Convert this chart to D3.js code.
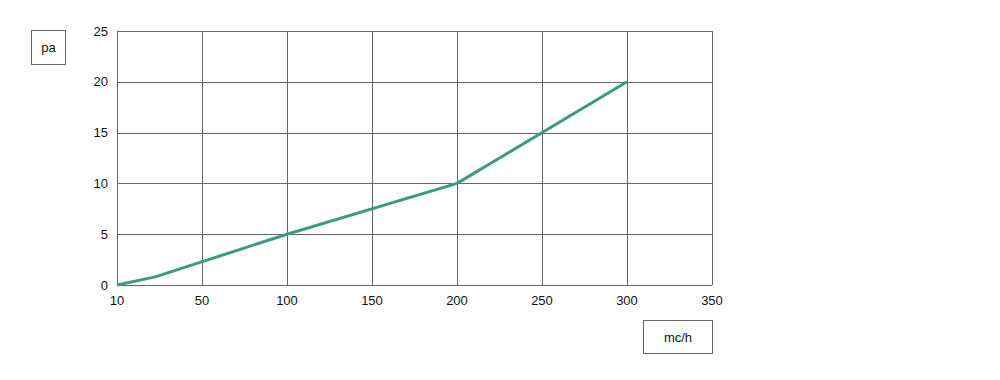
<!DOCTYPE html>
<html><head><meta charset="utf-8">
<script src="https://cdn.jsdelivr.net/npm/d3@7"></script>
<style>body{margin:0;background:#fff}svg{display:block}text{font-family:"Liberation Sans",Arial,sans-serif;fill:#111}</style>
</head><body><svg id="c" width="1000" height="380"></svg>
<script>
const xTicks = [10, 50, 100, 150, 200, 250, 300, 350];
const yTicks = [0, 5, 10, 15, 20, 25];
const flowValues = [10, 28, 100, 200, 300];
const pressureValues = [0, 0.8, 5, 10, 20];
const yLabel = "pa";
const xLabel = "mc/h";

const svg = d3.select("#c");
const pLeft = 117, pRight = 712, pTop = 31, pBottom = 285;
const step = (pRight - pLeft) / (xTicks.length - 1);
const x = d3.scaleLinear().domain(xTicks).range(xTicks.map((d, i) => pLeft + i * step));
const y = d3.scaleLinear().domain([0, 25]).range([pBottom, pTop]);

const g = svg.append("g");
g.selectAll("line.v").data(xTicks).join("line")
  .attr("x1", d => Math.round(x(d)) + 0.5).attr("x2", d => Math.round(x(d)) + 0.5)
  .attr("y1", pTop).attr("y2", pBottom).attr("stroke", "#666").attr("stroke-width", 1);
g.selectAll("line.h").data(yTicks).join("line")
  .attr("y1", d => Math.round(y(d)) + 0.5).attr("y2", d => Math.round(y(d)) + 0.5)
  .attr("x1", pLeft).attr("x2", pRight).attr("stroke", "#666").attr("stroke-width", 1);

g.selectAll("text.y").data(yTicks).join("text")
  .attr("x", 108).attr("y", d => y(d)).attr("dy", "0.35em").attr("text-anchor", "end")
  .attr("font-size", 13).text(d => d);
g.selectAll("text.x").data(xTicks).join("text")
  .attr("x", d => x(d)).attr("y", 300).attr("dy", "0.35em").attr("text-anchor", "middle")
  .attr("font-size", 13).text(d => d);

const pts = flowValues.map((d, i) => [d, pressureValues[i]]);
svg.append("path").datum(pts)
  .attr("d", d3.line().x(d => x(d[0])).y(d => y(d[1])))
  .attr("fill", "none").attr("stroke", "#3d9a82").attr("stroke-width", 3).attr("stroke-linejoin", "round");

svg.append("rect").attr("x", 31.5).attr("y", 30.5).attr("width", 34).attr("height", 34)
  .attr("fill", "none").attr("stroke", "#666");
svg.append("text").attr("x", 48.5).attr("y", 47.5).attr("dy", "0.35em").attr("text-anchor", "middle")
  .attr("font-size", 13).text(yLabel);
svg.append("rect").attr("x", 643.5).attr("y", 320.5).attr("width", 69).attr("height", 33)
  .attr("fill", "none").attr("stroke", "#666");
svg.append("text").attr("x", 678).attr("y", 337).attr("dy", "0.35em").attr("text-anchor", "middle")
  .attr("font-size", 13).text(xLabel);
</script></body></html>
